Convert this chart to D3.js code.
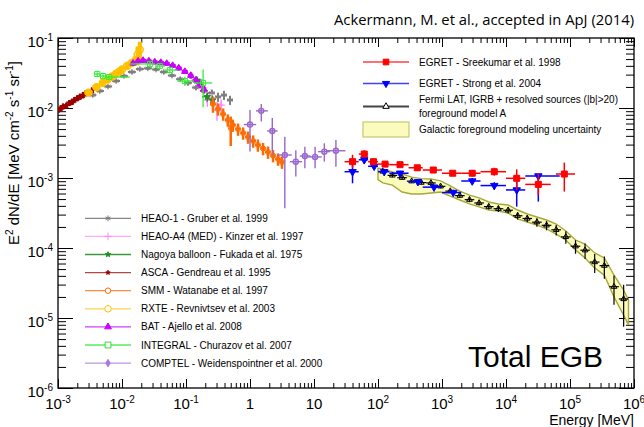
<!DOCTYPE html>
<html>
<head>
<meta charset="utf-8">
<script src="https://cdn.jsdelivr.net/npm/d3@7"></script>
<style>
body{margin:0;background:#fff;}
text{font-family:"Liberation Sans",Arial,sans-serif;}
</style>
</head>
<body>
<svg id="chart" width="644" height="427"></svg>
<script>
// ---- data (E in MeV, E^2 dN/dE in MeV cm^-2 s^-1 sr^-1) ----
// ASCA - Gendreau et al. 1995
var ascaE = [1.0e-3,1.1e-3,1.2e-3,1.35e-3,1.5e-3,1.65e-3,1.8e-3,2.0e-3,2.2e-3,2.45e-3,2.7e-3,3.0e-3,3.4e-3];
var ascaF = [9.4e-3,9.9e-3,1.05e-2,1.08e-2,1.18e-2,1.22e-2,1.30e-2,1.38e-2,1.45e-2,1.52e-2,1.62e-2,1.68e-2,1.78e-2];
var ascaErr = [0.1,0.1,0.1,0.1,0.1,0.1,0.1,0.1,0.1,0.1,0.1,0.1,0.1];
// HEAO-1 - Gruber et al. 1999
var heao1E = [3.5e-3,4.5e-3,6.05e-3,8.1e-3,1.07e-2,1.43e-2,1.9e-2,2.54e-2,3.4e-2,4.5e-2,6.05e-2,8.1e-2,0.107,0.143,0.19,0.254,0.316,0.392,0.487];
var heao1F = [1.53e-2,1.75e-2,2.03e-2,2.43e-2,2.86e-2,3.27e-2,3.6e-2,3.69e-2,3.55e-2,3.27e-2,2.91e-2,2.59e-2,2.28e-2,1.96e-2,1.75e-2,1.64e-2,1.44e-2,1.53e-2,1.30e-2];
var heao1Err = [0.06,0.06,0.06,0.06,0.06,0.06,0.06,0.06,0.06,0.06,0.06,0.07,0.08,0.08,0.1,0.12,0.15,0.15,0.15];
// HEAO-A4 (MED) - Kinzer et al. 1997
var medE = [0.149,0.185,0.215,0.254,0.305,0.354];
var medF = [2.35e-2,1.93e-2,1.3e-2,1.39e-2,9.4e-3,1.1e-2];
var medErr = [0.1,0.12,0.2,0.15,0.3,0.2];
// Nagoya balloon - Fukada et al. 1975
var nagE = [0.148,0.215,0.26];
var nagF = [2.5e-2,1.45e-2,1.3e-2];
var nagErr = [0.12,0.15,0.15];
// SMM - Watanabe et al. 1997
var smmE = [0.264,0.316,0.38,0.45,0.5,0.54,0.65,0.78,0.93,1.12,1.33,1.6,1.91,2.29,2.74,3.16];
var smmF = [1.14e-2,9.7e-3,8.2e-3,6.75e-3,5.2e-3,5.7e-3,5.0e-3,4.4e-3,3.85e-3,3.38e-3,2.96e-3,2.64e-3,2.35e-3,2.09e-3,1.87e-3,1.69e-3];
var smmErr = [0.25,0.2,0.2,0.2,0.45,0.2,0.2,0.2,0.2,0.2,0.2,0.2,0.2,0.2,0.2,0.2];
// RXTE - Revnivtsev et al. 2003
var rxteE = [3e-3,4e-3,5e-3,6e-3,7e-3,8e-3,9e-3,1e-2,1.2e-2,1.4e-2,1.6e-2,1.75e-2,1.9e-2];
var rxteF = [1.66e-2,1.98e-2,2.29e-2,2.57e-2,2.82e-2,3.08e-2,3.31e-2,3.55e-2,3.98e-2,4.37e-2,4.75e-2,5.8e-2,6.8e-2];
var rxteErr = [0.12,0.12,0.12,0.12,0.12,0.12,0.12,0.12,0.12,0.12,0.15,0.3,0.3];
// BAT - Ajello et al. 2008
var batE = [1.49e-2,1.78e-2,2.13e-2,2.63e-2,3.25e-2,4.04e-2,5.0e-2,6.2e-2,7.7e-2,9.6e-2,0.119,0.143,0.166,0.19];
var batF = [4.36e-2,4.69e-2,4.78e-2,4.69e-2,4.54e-2,4.47e-2,4.33e-2,4.05e-2,3.72e-2,3.32e-2,2.91e-2,2.51e-2,2.2e-2,1.87e-2];
var batErr = [0.08,0.08,0.08,0.08,0.08,0.08,0.08,0.08,0.08,0.08,0.1,0.1,0.12,0.12];
// INTEGRAL - Churazov et al. 2007
var intE = [4.1e-3,5.05e-3,6.3e-3,2.74e-2,3.9e-2,5.6e-2,9.6e-2,0.185];
var intF = [3.06e-2,2.86e-2,2.77e-2,4.26e-2,3.98e-2,3.49e-2,2.43e-2,2.28e-2];
var intErr = [0.06,0.06,0.06,0.08,0.08,0.1,0.15,0.55];
// COMPTEL - Weidenspointner et al. 2000
var comE   = [1.0,1.5,2.23,3.5,5.2,7.2,10.4,14.5,22];
var comElo = [0.8,1.24,1.85,2.7,4.2,6.0,8.0,11.6,15.3];
var comEhi = [1.25,1.9,2.7,4.5,6.5,8.8,13.2,17.8,31];
var comF   = [5.8e-3,9.1e-3,4.7e-3,2.13e-3,1.71e-3,2.06e-3,2.0e-3,2.38e-3,2.45e-3];
var comFlo = [2.4e-3,6.4e-3,2.13e-3,3.7e-4,1.05e-3,1.38e-3,1.38e-3,1.71e-3,1.45e-3];
var comFhi = [9.4e-3,1.14e-2,7.2e-3,3.9e-3,2.5e-3,2.8e-3,2.8e-3,3.13e-3,3.49e-3];
// EGRET - Sreekumar et al. 1998
var sreE   = [40,61,85,129,221,411,731,1470,2970,6560,14700,32000,81500];
var sreElo = [30,50,70,100,150,300,500,1000,2000,4000,10000,20000,60000];
var sreEhi = [50,70,100,150,300,500,1000,2000,4000,10000,20000,50000,120000];
var sreF   = [1.71e-3,2.2e-3,1.71e-3,1.58e-3,1.55e-3,1.40e-3,1.30e-3,1.17e-3,1.17e-3,1.23e-3,9.9e-4,8.1e-4,1.14e-3];
var sreFlo = [1.38e-3,1.95e-3,1.55e-3,1.45e-3,1.44e-3,1.30e-3,1.20e-3,1.07e-3,1.05e-3,1.08e-3,6.75e-4,5.7e-4,6.4e-4];
var sreFhi = [2.15e-3,2.5e-3,1.9e-3,1.72e-3,1.67e-3,1.51e-3,1.41e-3,1.28e-3,1.3e-3,1.4e-3,1.33e-3,1.17e-3,1.66e-3];
// EGRET - Strong et al. 2004
var strE   = [40,61,87,125,221,420,750,1500,2970,6560,14700,32000];
var strElo = [30,50,70,100,150,300,500,1000,2000,4000,10000,20000];
var strEhi = [50,70,100,150,300,500,1000,2000,4000,10000,20000,69000];
var strF   = [1.23e-3,1.82e-3,1.47e-3,1.23e-3,1.17e-3,8.85e-4,7.4e-4,6.2e-4,9.06e-4,7.8e-4,6.75e-4,1.07e-3];
var strFlo = [8.4e-4,1.6e-3,1.35e-3,1.13e-3,1.08e-3,8.1e-4,6.8e-4,5.7e-4,8.1e-4,6.9e-4,3.9e-4,4.6e-4];
var strFhi = [1.81e-3,2.05e-3,1.6e-3,1.34e-3,1.27e-3,9.6e-4,8.0e-4,6.8e-4,1.0e-3,8.7e-4,1.0e-3,1.07e-3];
// Fermi LAT, IGRB + resolved sources (|b|>20), foreground model A
var latE  = [119,168,238,336,475,672,951,1345,1900,2690,3800,5380,7610,10800,15200,21500,30400,43000,60900,86100,122000,172000,243000,344000,487000,689000];
var latF  = [1.24e-3,1.09e-3,1.01e-3,9.0e-4,8.6e-4,8.5e-4,7.6e-4,6.5e-4,5.6e-4,4.9e-4,4.4e-4,3.9e-4,3.64e-4,3.46e-4,2.89e-4,2.64e-4,2.34e-4,2.11e-4,1.82e-4,1.44e-4,1.06e-4,9.3e-5,6.3e-5,5.6e-5,2.8e-5,1.87e-5];
var latErr = [0.06,0.06,0.06,0.06,0.06,0.06,0.06,0.07,0.07,0.08,0.08,0.09,0.1,0.1,0.12,0.12,0.14,0.15,0.17,0.2,0.22,0.25,0.3,0.35,0.45,0.6];
// Galactic foreground modeling uncertainty band
var bandE  = [100,119,168,238,336,475,672,951,1345,1900,2690,3800,5380,7610,10800,15200,21500,30400,43000,60900,86100,122000,172000,243000,344000,487000,689000,820000];
var bandHi = [1.38e-3,1.35e-3,1.22e-3,1.14e-3,1.03e-3,9.8e-4,9.7e-4,9.1e-4,7.7e-4,6.5e-4,5.7e-4,5.2e-4,4.54e-4,4.26e-4,4.11e-4,3.49e-4,3.06e-4,2.77e-4,2.51e-4,2.2e-4,1.75e-4,1.3e-4,1.14e-4,8.5e-5,7.2e-5,4.1e-5,2.5e-5,1.8e-5];
var bandLo = [9.5e-4,8.5e-4,7.9e-4,6.3e-4,5.9e-4,5.9e-4,6.1e-4,6.3e-4,5.5e-4,4.85e-4,4.26e-4,3.86e-4,3.49e-4,3.38e-4,3.16e-4,2.6e-4,2.35e-4,2.13e-4,1.87e-4,1.58e-4,1.3e-4,9.4e-5,7.2e-5,5.2e-5,4.1e-5,2.0e-5,1.1e-5,8e-6];

var xMajor = [1e-3,1e-2,1e-1,1,10,1e2,1e3,1e4,1e5,1e6];
var xLabels = [["10","-3"],["10","-2"],["10","-1"],["1",""],["10",""],["10","2"],["10","3"],["10","4"],["10","5"],["10","6"]];
var yMajor = [1e-6,1e-5,1e-4,1e-3,1e-2,1e-1];
var yLabels = [["10","-6"],["10","-5"],["10","-4"],["10","-3"],["10","-2"],["10","-1"]];

// ---- chart ----
var svg = d3.select("#chart");
var x = d3.scaleLog().domain([1e-3,1e6]).range([58,634]);
var y = d3.scaleLog().domain([1e-6,1e-1]).range([388,38]);

function minors(lo,hi){
    var out = [];
    for(var p=lo;p<hi;p++){
        for(var k=2;k<10;k++){ out.push(k*Math.pow(10,p)); }
    }
    return out;
}
var xMinor = minors(-3,6);
var yMinor = minors(-6,-1);

function axisG(axis,tr){
    var g = svg.append("g").attr("transform",tr).call(axis);
    g.select(".domain").remove();
    g.selectAll("line").attr("stroke","#000").attr("stroke-width",1);
    return g;
}
axisG(d3.axisBottom(x).tickValues(xMajor).tickSize(-9).tickSizeOuter(0).tickFormat(""),"translate(0,388)");
axisG(d3.axisBottom(x).tickValues(xMinor).tickSize(-5).tickSizeOuter(0).tickFormat(""),"translate(0,388)");
axisG(d3.axisTop(x).tickValues(xMajor).tickSize(-9).tickSizeOuter(0).tickFormat(""),"translate(0,38)");
axisG(d3.axisTop(x).tickValues(xMinor).tickSize(-5).tickSizeOuter(0).tickFormat(""),"translate(0,38)");
axisG(d3.axisLeft(y).tickValues(yMajor).tickSize(-15).tickSizeOuter(0).tickFormat(""),"translate(58,0)");
axisG(d3.axisLeft(y).tickValues(yMinor).tickSize(-8).tickSizeOuter(0).tickFormat(""),"translate(58,0)");
axisG(d3.axisRight(y).tickValues(yMajor).tickSize(-15).tickSizeOuter(0).tickFormat(""),"translate(634,0)");
axisG(d3.axisRight(y).tickValues(yMinor).tickSize(-8).tickSizeOuter(0).tickFormat(""),"translate(634,0)");

svg.append("rect").attr("x",58).attr("y",38).attr("width",576).attr("height",350)
   .attr("fill","none").attr("stroke","#000").attr("stroke-width",1.3);

// tick labels
xMajor.forEach(function(v,i){
    var t = svg.append("text").attr("x",x(v)).attr("y",409).attr("text-anchor","middle")
        .attr("font-size",15).attr("fill","#000");
    t.append("tspan").text(xLabels[i][0]);
    if(xLabels[i][1]) t.append("tspan").attr("dy",-6).attr("font-size",10).text(xLabels[i][1]);
});
yMajor.forEach(function(v,i){
    var t = svg.append("text").attr("x",53).attr("y",y(v)+9).attr("text-anchor","end")
        .attr("font-size",15).attr("fill","#000");
    t.append("tspan").text(yLabels[i][0]);
    t.append("tspan").attr("dy",-6).attr("font-size",10).text(yLabels[i][1]);
});

svg.append("text").attr("x",634).attr("y",425).attr("text-anchor","end")
   .attr("font-size",14).text("Energy [MeV]");

var yt = svg.append("text").attr("transform","translate(19,153) rotate(-90)")
   .attr("text-anchor","middle").attr("font-size",15);
yt.append("tspan").text("E");
yt.append("tspan").attr("dy",-6).attr("font-size",10).text("2");
yt.append("tspan").attr("dy",6).text(" dN/dE [MeV cm");
yt.append("tspan").attr("dy",-6).attr("font-size",10).text("-2");
yt.append("tspan").attr("dy",6).text(" s");
yt.append("tspan").attr("dy",-6).attr("font-size",10).text("-1");
yt.append("tspan").attr("dy",6).text(" sr");
yt.append("tspan").attr("dy",-6).attr("font-size",10).text("-1");
yt.append("tspan").attr("dy",6).text("]");

svg.append("text").attr("x",634).attr("y",25).attr("text-anchor","end")
   .style("font-family","'Open Sans',sans-serif").attr("font-size",14.8)
   .text("Ackermann, M. et al., accepted in ApJ (2014)");

svg.append("text").attr("x",468).attr("y",367).attr("font-size",30)
   .text("Total EGB");

// ---- helpers ----
function spans(E){
    var lo=[],hi=[];
    for(var i=0;i<E.length;i++){
        var prev = i>0 ? E[i-1] : E[i]*E[i]/E[i+1];
        var next = i<E.length-1 ? E[i+1] : E[i]*E[i]/E[i-1];
        lo.push(Math.sqrt(prev*E[i]));
        hi.push(Math.sqrt(next*E[i]));
    }
    return [lo,hi];
}
function build(E,F,Elo,Ehi,Flo,Fhi){
    return E.map(function(e,i){
        return {e:e,f:F[i],elo:Elo[i],ehi:Ehi[i],flo:Flo[i],fhi:Fhi[i]};
    });
}
function rel(E,F,err){
    var s = spans(E);
    return build(E,F,s[0],s[1],
        F.map(function(f,i){return f*(1-err[i]);}),
        F.map(function(f,i){return f*(1+err[i]);}));
}
var clip = svg.append("defs").append("clipPath").attr("id","plotclip");
clip.append("rect").attr("x",58).attr("y",38).attr("width",576).attr("height",350);
var plot = svg.append("g").attr("clip-path","url(#plotclip)");

function drawSet(pts,o){
    var g = plot.append("g");
    g.selectAll("line.h").data(pts).enter().append("line")
        .attr("x1",function(d){return x(d.elo);}).attr("x2",function(d){return x(d.ehi);})
        .attr("y1",function(d){return y(d.f);}).attr("y2",function(d){return y(d.f);})
        .attr("stroke",o.bar||o.color).attr("stroke-width",o.sw||1);
    g.selectAll("line.v").data(pts).enter().append("line")
        .attr("x1",function(d){return x(d.e);}).attr("x2",function(d){return x(d.e);})
        .attr("y1",function(d){return y(d.flo);}).attr("y2",function(d){return y(d.fhi);})
        .attr("stroke",o.bar||o.color).attr("stroke-width",o.sw||1);
    g.selectAll("path").data(pts).enter().append("path")
        .attr("d",d3.symbol().type(o.sym).size(o.size))
        .attr("transform",function(d){return "translate("+x(d.e)+","+y(d.f)+")"+(o.rot?" rotate(180)":"");})
        .attr("fill",o.open?"none":o.color)
        .attr("stroke",o.color).attr("stroke-width",o.msw||1);
}

// low-energy data sets
drawSet(rel(heao1E,heao1F,heao1Err),{color:"#7f7f7f",sym:d3.symbolAsterisk,size:24,sw:2});
drawSet(rel(medE,medF,medErr),{color:"#ff88ff",sym:d3.symbolPlus,size:24,sw:1.5});
drawSet(rel(nagE,nagF,nagErr),{color:"#228b22",sym:d3.symbolStar,size:14,sw:1.5});
drawSet(rel(ascaE,ascaF,ascaErr),{color:"#990000",sym:d3.symbolStar,size:10,sw:2.5});
drawSet(rel(smmE,smmF,smmErr),{color:"#ff6a00",sym:d3.symbolCircle,size:20,sw:2.5,open:true});
drawSet(rel(rxteE,rxteF,rxteErr),{color:"#ffc000",sym:d3.symbolCircle,size:36,sw:4,open:true,msw:1.5});
drawSet(rel(batE,batF,batErr),{color:"#cc00ff",sym:d3.symbolTriangle,size:18,sw:3});
drawSet(rel(intE,intF,intErr),{color:"#33ee33",sym:d3.symbolSquare,size:26,sw:1.3,open:true,msw:1});
drawSet(build(comE,comF,comElo,comEhi,comFlo,comFhi),{color:"#9a66cc",sym:d3.symbolCircle,size:20,sw:1.4,open:true,msw:1.4});

// uncertainty band
var area = d3.area()
    .x(function(d,i){return x(bandE[i]);})
    .y0(function(d,i){return y(bandLo[i]);})
    .y1(function(d,i){return y(bandHi[i]);});
plot.append("path").datum(bandE).attr("d",area)
    .attr("fill","#fbfbbd").attr("stroke","#a8a83a").attr("stroke-width",1.4);

var latS = spans(latE);
drawSet(build(latE,latF,latS[0],latS[1],
    latF.map(function(f,i){return f*(1-latErr[i]);}),
    latF.map(function(f,i){return f*(1+latErr[i]);})),
    {color:"#000",sym:d3.symbolTriangle,size:14,sw:1.2,open:true,msw:1});
drawSet(build(strE,strF,strElo,strEhi,strFlo,strFhi),{color:"#0000ff",sym:d3.symbolTriangle,size:24,sw:1.5,rot:true});
drawSet(build(sreE,sreF,sreElo,sreEhi,sreFlo,sreFhi),{color:"#ff0000",sym:d3.symbolSquare,size:36,sw:1.5});

// ---- legends ----
var legR = [
    {t:["EGRET - Sreekumar et al. 1998"],c:"#ff4040",m:"#ff0000",sym:d3.symbolSquare,size:32,y:62},
    {t:["EGRET - Strong et al. 2004"],c:"#4040ff",m:"#0000ff",sym:d3.symbolTriangle,size:22,rot:true,y:83.5},
    {t:["Fermi LAT, IGRB + resolved sources (|b|>20)","foreground model A"],c:"#444",m:"#000",sym:d3.symbolTriangle,size:18,open:true,y:106.5,w:2}
];
legR.forEach(function(d){
    svg.append("line").attr("x1",363).attr("x2",409).attr("y1",d.y).attr("y2",d.y)
        .attr("stroke",d.c).attr("stroke-width",d.w||1.3);
    svg.append("path").attr("d",d3.symbol().type(d.sym).size(d.size)())
        .attr("transform","translate(386,"+d.y+")"+(d.rot?" rotate(180)":""))
        .attr("fill",d.open?"#fff":d.m).attr("stroke",d.m);
    d.t.forEach(function(s,j){
        svg.append("text").attr("x",419).attr("y",d.y+3.5+(d.t.length>1?(j*13.5-6.8):0))
            .attr("font-size",10).text(s);
    });
});
svg.append("rect").attr("x",363).attr("y",122).attr("width",46).attr("height",15)
    .attr("fill","#fbfbbd").attr("stroke","#c8c870").attr("stroke-width",1.2);
svg.append("text").attr("x",419).attr("y",132.5).attr("font-size",10).text("Galactic foreground modeling uncertainty");

var legL = [
    {t:"HEAO-1 - Gruber et al. 1999",c:"#888",m:"#777",sym:d3.symbolAsterisk,size:22},
    {t:"HEAO-A4 (MED) - Kinzer et al. 1997",c:"#ffaaff",m:"#ff88ff",sym:d3.symbolPlus,size:22},
    {t:"Nagoya balloon - Fukada et al. 1975",c:"#3a9a3a",m:"#228b22",sym:d3.symbolStar,size:9},
    {t:"ASCA - Gendreau et al. 1995",c:"#b04a4a",m:"#990000",sym:d3.symbolStar,size:6},
    {t:"SMM - Watanabe et al. 1997",c:"#ff8a40",m:"#ff6a00",sym:d3.symbolCircle,size:24,open:true},
    {t:"RXTE - Revnivtsev et al. 2003",c:"#ffd24d",m:"#ffc000",sym:d3.symbolCircle,size:34,open:true},
    {t:"BAT - Ajello et al. 2008",c:"#d040ff",m:"#cc00ff",sym:d3.symbolTriangle,size:20},
    {t:"INTEGRAL - Churazov et al. 2007",c:"#55ee55",m:"#33dd33",sym:d3.symbolSquare,size:34,open:true},
    {t:"COMPTEL - Weidenspointner et al. 2000",c:"#bb99e0",m:"#aa77dd",sym:d3.symbolDiamond,size:16}
];
legL.forEach(function(d,i){
    var ly = 218.3 + i*18.1;
    svg.append("line").attr("x1",85).attr("x2",131).attr("y1",ly).attr("y2",ly)
        .attr("stroke",d.c).attr("stroke-width",1.3);
    svg.append("path").attr("d",d3.symbol().type(d.sym).size(d.size)())
        .attr("transform","translate(108,"+ly+")")
        .attr("fill",d.open?"#fff":d.m).attr("stroke",d.m).attr("stroke-width",1);
    svg.append("text").attr("x",141).attr("y",ly+3.5).attr("font-size",10).text(d.t);
});
</script>
</body>
</html>
